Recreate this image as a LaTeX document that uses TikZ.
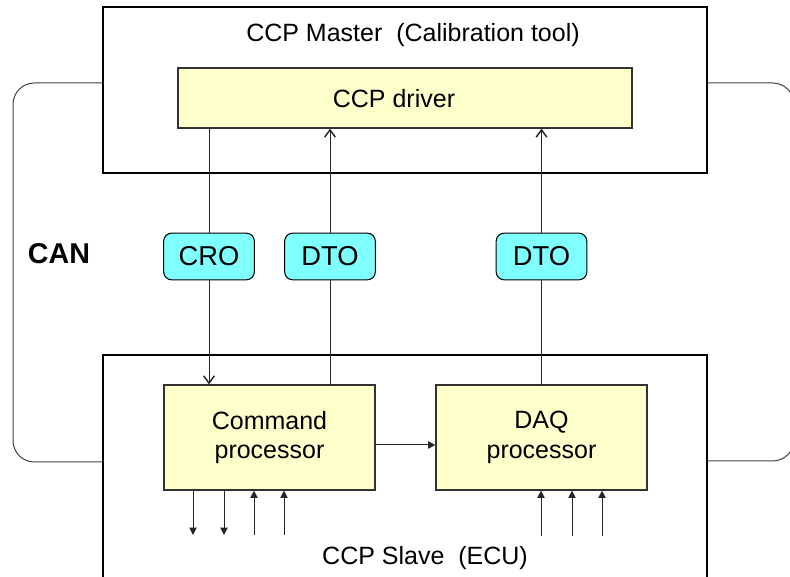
\documentclass[tikz,border=0pt]{standalone}
\usepackage{fontspec}
\setmainfont{Liberation Sans}
\usetikzlibrary{arrows.meta}
\definecolor{boxyellow}{RGB}{255,255,204}
\definecolor{pillcyan}{RGB}{128,255,255}
\definecolor{edgegray}{RGB}{50,50,50}
\begin{document}
\begin{tikzpicture}[x=0.75pt,y=-0.75pt,
  font=\fontsize{18.75}{22}\selectfont,
  outerbox/.style={draw=black,line width=1.1pt,inner sep=0pt},
  procbox/.style={draw=edgegray,line width=0.9pt,fill=boxyellow,inner sep=0pt,align=center},
  pill/.style={draw=black,line width=0.8pt,fill=pillcyan,rounded corners=6pt,
    minimum width=68pt,minimum height=35pt,inner sep=0pt,font=\fontsize{20.5}{24}\selectfont},
  conn/.style={draw=black!85,line width=0.75pt},
  barb/.style={conn,-{Straight Barb[length=5.5pt,width=8pt,line width=1.1pt]}},
  tri/.style={conn,-{Triangle[length=5.5pt,width=5.5pt]}},
  bracket/.style={draw=black!75,line width=0.75pt,rounded corners=16pt}]
\useasboundingbox (0,0) rectangle (790,577);

% outer boxes
\node[outerbox,minimum width=453pt,minimum height=124.5pt] (master) at (405,90) {};
\node[outerbox,minimum width=453pt,minimum height=183.75pt] (slave) at (405,477.5) {};

% labels of outer boxes
\node[anchor=base,inner sep=0pt] (masterlbl) at (413,42) {CCP Master\ \ (Calibration tool)};
\node[anchor=base,inner sep=0pt] (slavelbl) at (425,565) {CCP Slave\ \ (ECU)};

% CAN bus brackets
\coordinate (bl1) at (13,83);
\coordinate (bl2) at (13,462);
\coordinate (br1) at (794,83);
\coordinate (br2) at (794,461);
\draw[bracket] (master.west |- bl1) -- (bl1) -- (bl2) -- (slave.west |- bl2);
\draw[bracket] (master.east |- br1) -- (br1) -- (br2) -- (slave.east |- br2);
\node[font=\fontsize{21.5}{25}\selectfont\bfseries,anchor=base,inner sep=0pt] (can) at (59,264) {CAN};

% inner boxes
\node[procbox,minimum width=340.5pt,minimum height=45pt] (driver) at (405,98) {};
\node[anchor=base,inner sep=0pt] (driverlbl) at (394,108) {CCP driver};
\node[procbox,minimum width=158.25pt,minimum height=78.75pt] (cmd) at (269.5,437.5) {Command\\processor};
\node[procbox,minimum width=158.25pt,minimum height=78.75pt] (daq) at (541.5,437.5) {DAQ\\processor};

% message pills
\node[pill] (cro) at (209,256.5) {CRO};
\node[pill] (dto1) at (330,256.5) {DTO};
\node[pill] (dto2) at (541.5,256.5) {DTO};

% CRO: master -> slave command processor
\draw[conn] (cro |- driver.south) -- (cro.north);
\draw[barb] (cro.south) -- (cro |- cmd.north);
% DTO: command processor -> master
\draw[conn] (dto1 |- cmd.north) -- (dto1.south);
\draw[barb] (dto1.north) -- (dto1 |- driver.south);
% DTO: DAQ processor -> master
\draw[conn] (dto2 |- daq.north) -- (dto2.south);
\draw[barb] (dto2.north) -- (dto2 |- driver.south);

% command -> DAQ
\draw[tri] (cmd.east |- 0,445) -- (daq.west |- 0,445);

% I/O arrows below command processor
\coordinate (c1) at (193,535);
\coordinate (c2) at (224,535);
\coordinate (c3) at (254,535);
\coordinate (c4) at (284,535);
\draw[tri] (cmd.south -| c1) -- (c1);
\draw[tri] (cmd.south -| c2) -- (c2);
\draw[tri] (c3) -- (cmd.south -| c3);
\draw[tri] (c4) -- (cmd.south -| c4);

% I/O arrows below DAQ processor
\coordinate (d1) at (541,536);
\coordinate (d2) at (572,536);
\coordinate (d3) at (602,536);
\draw[tri] (d1) -- (daq.south -| d1);
\draw[tri] (d2) -- (daq.south -| d2);
\draw[tri] (d3) -- (daq.south -| d3);
\end{tikzpicture}
\end{document}
